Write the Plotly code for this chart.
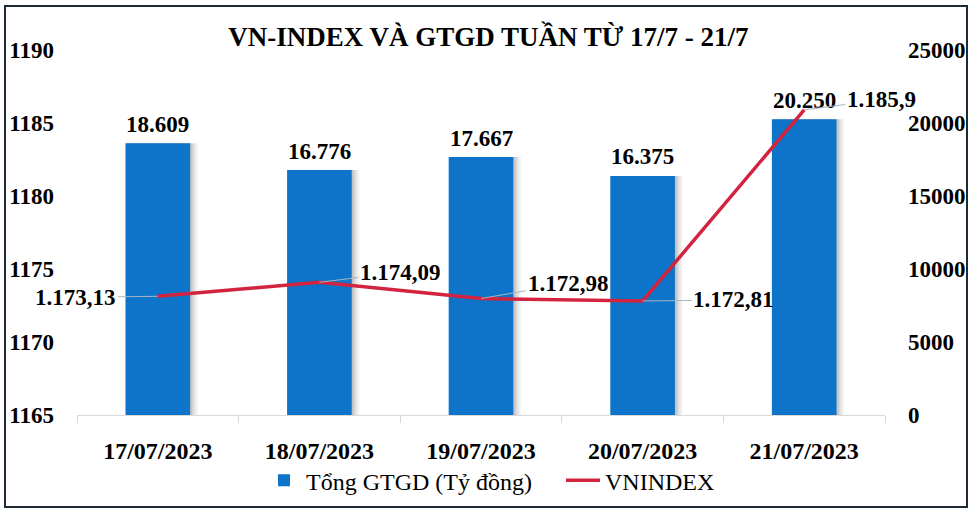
import plotly.graph_objects as go

dates = ["17/07/2023", "18/07/2023", "19/07/2023", "20/07/2023", "21/07/2023"]
gtgd = [18609, 16776, 17667, 16375, 20250]
gtgd_labels = ["18.609", "16.776", "17.667", "16.375", "20.250"]
vnindex = [1173.13, 1174.09, 1172.98, 1172.81, 1185.9]
vnindex_labels = ["1.173,13", "1.174,09", "1.172,98", "1.172,81", "1.185,9"]
left_ticks = [1165, 1170, 1175, 1180, 1185, 1190]
right_ticks = [0, 5000, 10000, 15000, 20000, 25000]

FONT = "Liberation Serif"
BLUE = "#0D74C9"
RED = "#D2243F"
PX = 1 / 161.6  # one pixel in category units

fig = go.Figure()

# soft shadow layers behind bars (fading to the right)
for k, a in [(8, 0.05), (6, 0.07), (4, 0.10), (2, 0.14)]:
    fig.add_trace(go.Bar(
        x=dates, y=gtgd, width=0.4 + (k - 1) * PX, offset=-0.2 + 1 * PX,
        marker=dict(color=f"rgba(70,70,70,{a})", line=dict(width=0)),
        showlegend=False, hoverinfo="skip", yaxis="y"))

fig.add_trace(go.Bar(
    x=dates, y=gtgd, width=0.4, offset=-0.2, name="Tổng GTGD (Tỷ đồng)",
    marker=dict(color=BLUE, line=dict(width=0)), yaxis="y"))

fig.add_trace(go.Scatter(
    x=dates, y=vnindex, mode="lines", name="VNINDEX",
    line=dict(color=RED, width=3.5), yaxis="y2"))

annotations = []
for d, v, t in zip(dates, gtgd, gtgd_labels):
    annotations.append(dict(x=d, y=v, xref="x", yref="y", text=t, showarrow=False,
                            yshift=19, font=dict(family=FONT, size=23, color="black", weight="bold")))

offsets = [(-82, 1), (81, -10), (87, -15), (91, -1), (77, -10)]
for d, v, t, (ax, ay) in zip(dates, vnindex, vnindex_labels, offsets):
    annotations.append(dict(x=d, y=v, xref="x", yref="y2", text=t, showarrow=True,
                            arrowhead=0, arrowwidth=1, arrowcolor="#A9B4C0",
                            ax=ax, ay=ay, standoff=0,
                            font=dict(family=FONT, size=23, color="black", weight="bold")))

fig.update_layout(
    width=971, height=512,
    margin=dict(l=77, r=86, t=50, b=97, autoexpand=False),
    paper_bgcolor="white", plot_bgcolor="white",
    barmode="overlay",
    title=dict(text="VN-INDEX VÀ GTGD TUẦN TỪ 17/7 - 21/7", x=0.503, xanchor="center",
               y=(512 - 37) / 512, yanchor="middle",
               font=dict(family=FONT, size=27, color="black", weight="bold")),
    xaxis=dict(type="category", range=[-0.5, 4.5], showgrid=False, showline=True,
               linecolor="#D9D9D9", linewidth=1,
               ticks="outside", tickson="boundaries", ticklen=7, tickcolor="#D9D9D9",
               ticklabelstandoff=14,
               tickfont=dict(family=FONT, size=24, color="black", weight="bold")),
    yaxis=dict(side="right", range=[0, 25000], tickvals=right_ticks,
               ticktext=[str(v) for v in right_ticks], showgrid=False, zeroline=False,
               showline=False, ticks="", ticklabelstandoff=22,
               tickfont=dict(family=FONT, size=23, color="black", weight="bold")),
    yaxis2=dict(side="left", overlaying="y", range=[1165, 1190], tickvals=left_ticks,
                ticktext=[str(v) for v in left_ticks], showgrid=False, zeroline=False,
                showline=False, ticks="", ticklabelstandoff=22,
                tickfont=dict(family=FONT, size=23, color="black", weight="bold")),
    legend=dict(orientation="h", x=(262 - 77) / 808, xanchor="left", y=-0.18, yanchor="middle",
                font=dict(family=FONT, size=24, color="black"), traceorder="normal",
                itemwidth=34, entrywidth=250, bgcolor="rgba(0,0,0,0)"),
    annotations=annotations,
)

fig.add_shape(type="rect", xref="paper", yref="paper",
              x0=(5 - 77) / 808, x1=(967 - 77) / 808,
              y0=(415 - 507) / 365, y1=(415 - 6) / 365,
              line=dict(color="#1E2B36", width=2), layer="above")

fig.write_html("out.html", config={"displayModeBar": False},
               post_script="document.body.style.margin='0';document.body.style.padding='0';")
